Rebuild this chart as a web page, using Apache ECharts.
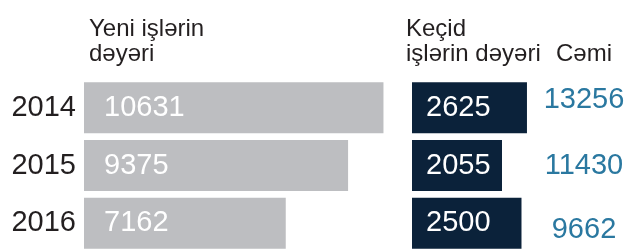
<!DOCTYPE html>
<html>
<head>
<meta charset="utf-8">
<script src="https://cdn.jsdelivr.net/npm/echarts@6/dist/echarts.min.js"></script>
<style>
html,body{margin:0;padding:0;background:#fff;}
#c{width:630px;height:252px;}
</style>
</head>
<body>
<div id="c"></div>
<script>
var years = ['2014', '2015', '2016'];
var newWorks = [10631, 9375, 7162];
var transitWorks = [2625, 2055, 2500];
var totals = [13256, 11430, 9662];
var headNew = 'Yeni işlərin\ndəyəri';
var headTransit = 'Keçid\nişlərin dəyəri';
var headTotal = 'Cəmi';

var FONT = "'Liberation Sans', Arial, sans-serif";
var chart = echarts.init(document.getElementById('c'), null, {renderer: 'canvas'});
var gridTop = 79, gridH = 178;
var headStyle = {fontFamily: FONT, fontSize: 24, lineHeight: 25, fontWeight: 'normal', color: '#231f20'};
// vertical nudges of the total labels, as in the original layout
var totalShift = [-8, 0, 7];

chart.setOption({
  animation: false,
  title: [
    {text: headNew, left: 89, top: 17, padding: 0, textStyle: headStyle},
    {text: headTransit, left: 406, top: 17, padding: 0, textStyle: headStyle},
    {text: headTotal, left: 556, top: 42, padding: 0, textStyle: headStyle}
  ],
  grid: [
    {left: 84, top: gridTop, width: 300, height: gridH},
    {left: 412, top: gridTop, width: 120, height: gridH},
    {left: 560, top: gridTop, width: 48, height: gridH}
  ],
  xAxis: [
    {gridIndex: 0, type: 'value', min: 0, max: 10650, show: false},
    {gridIndex: 1, type: 'value', min: 0, max: 2740, show: false},
    {gridIndex: 2, type: 'value', min: 0, max: 1, show: false}
  ],
  yAxis: [
    {gridIndex: 0, type: 'category', data: years, inverse: true,
     axisLine: {show: false}, axisTick: {show: false}, splitLine: {show: false},
     axisLabel: {fontFamily: FONT, fontSize: 29, color: '#231f20', margin: 8}},
    {gridIndex: 1, type: 'category', data: years, inverse: true, show: false},
    {gridIndex: 2, type: 'category', data: years, inverse: true, show: false}
  ],
  series: [
    {type: 'bar', xAxisIndex: 0, yAxisIndex: 0, data: newWorks, barWidth: 51,
     itemStyle: {color: '#bdbec1'},
     label: {show: true, position: 'insideLeft', distance: 20, color: '#ffffff',
             fontFamily: FONT, fontSize: 29}},
    {type: 'bar', xAxisIndex: 1, yAxisIndex: 1, data: transitWorks, barWidth: 51,
     itemStyle: {color: '#0b223a'},
     label: {show: true, position: 'insideLeft', distance: 14, color: '#ffffff',
             fontFamily: FONT, fontSize: 29}},
    {type: 'scatter', xAxisIndex: 2, yAxisIndex: 2, symbolSize: 1,
     itemStyle: {color: 'rgba(0,0,0,0)', opacity: 1},
     data: totals.map(function (v, i) {
       return {value: [0.5, years[i]], name: String(v), label: {offset: [0, totalShift[i]]}};
     }),
     label: {show: true, position: 'inside', color: '#2a78a0', fontFamily: FONT, fontSize: 29,
             formatter: '{b}'}}
  ]
});
</script>
</body>
</html>
